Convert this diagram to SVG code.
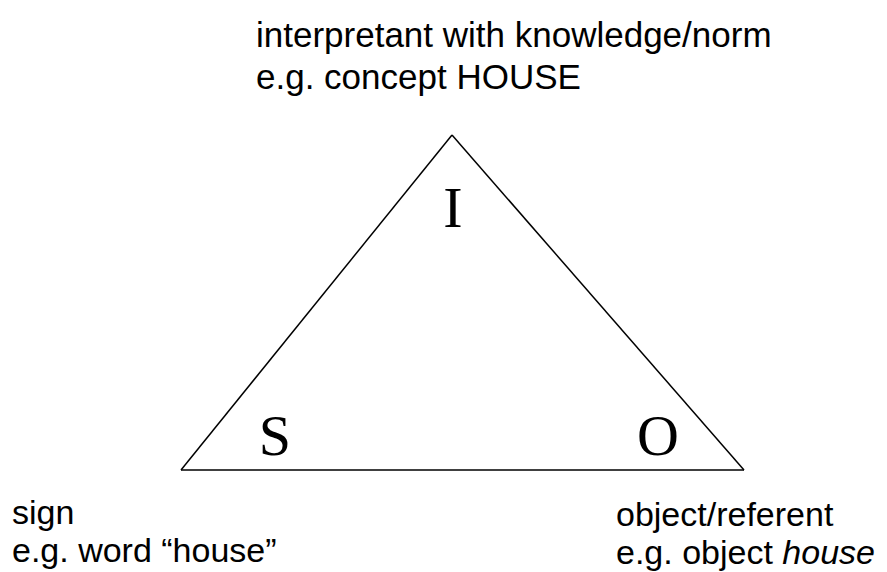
<svg xmlns="http://www.w3.org/2000/svg" width="887" height="572" viewBox="0 0 887 572">
<style>
.t{font-family:"Liberation Sans",Arial,sans-serif;font-size:35px;fill:#000}
.b{font-size:34px}
.v{font-family:"Liberation Serif","Times New Roman",serif;font-size:58px;fill:#000;text-anchor:middle}
.e{fill:none;stroke:#000;stroke-width:1.5;stroke-linejoin:miter}
</style>
<rect width="887" height="572" fill="#fff"/>
<g id="connectors">
<path class="e" d="M452 135 L744 470"/>
<path class="e" d="M452 135 L181 470"/>
<path class="e" d="M181 470 L744 470"/>
</g>
<g id="node-I">
<text class="v" x="453" y="227">I</text>
<text class="t" x="256" y="47">interpretant with knowledge/norm</text>
<text class="t" x="256" y="89">e.g. concept HOUSE</text>
</g>
<g id="node-S">
<text class="v" x="275" y="455">S</text>
<text class="t b" x="12" y="524">sign</text>
<text class="t b" x="12" y="562">e.g. word “house”</text>
</g>
<g id="node-O">
<text class="v" x="658" y="455">O</text>
<text class="t b" x="616" y="526">object/referent</text>
<text class="t b" x="616" y="564">e.g. object <tspan font-style="italic">house</tspan></text>
</g>
</svg>
